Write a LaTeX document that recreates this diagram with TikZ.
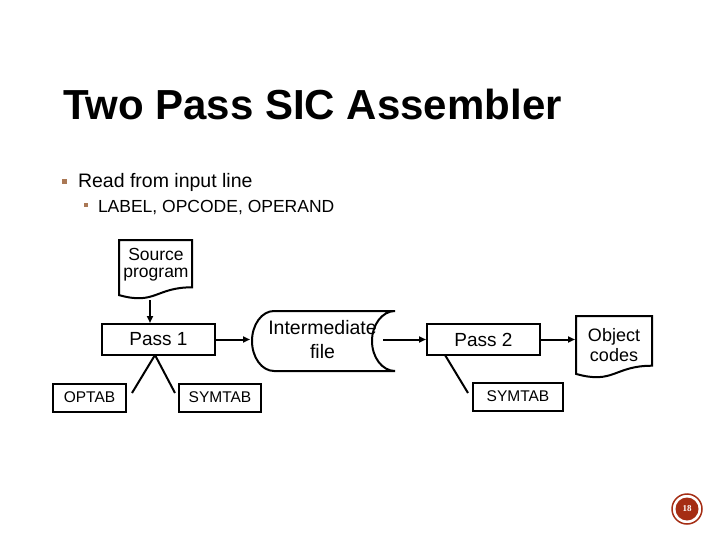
\documentclass[tikz,border=0pt]{standalone}
\usepackage{fontspec}
\setmainfont{Liberation Sans}
\newfontfamily\pagefont{Liberation Serif}
\usetikzlibrary{arrows.meta}

\definecolor{bulletc}{RGB}{170,120,85}
\definecolor{pagered}{RGB}{165,45,20}

% document outline with wavy bottom: x, y, width, height
\def\docwave#1#2#3#4{%
    \draw[outline] (#1,#2) -- ({#1+#3},#2) -- ({#1+#3},{#2+0.802*#4})
        .. controls ({#1+0.5*#3},{#2+0.802*#4}) and ({#1+0.5*#3},{#2+1.107*#4}) ..
        (#1,{#2+0.934*#4}) -- cycle;}

\begin{document}
\begin{tikzpicture}[x=1pt,y=-1pt,line width=2pt,>={Triangle[length=7pt,width=6pt]}]
    \tikzstyle{outline}=[draw,line join=miter,line width=2pt]
    \tikzstyle{passbox}=[draw,rectangle,minimum width=113pt,minimum height=31pt,inner sep=0pt,font=\fontsize{19}{21}\selectfont]
    \tikzstyle{symbox}=[draw,rectangle,minimum height=28pt,inner sep=0pt,font=\fontsize{15.5}{18}\selectfont]
    \tikzstyle{doctext}=[align=center,inner sep=0pt]
    \tikzstyle{bulletsq}=[fill=bulletc,inner sep=0pt]
    \tikzstyle{link}=[line width=2pt]

    \useasboundingbox (0,0) rectangle (720,540);

    % Title and bullets
    \node[anchor=base west,inner sep=0pt,font=\fontsize{42}{50}\selectfont\bfseries] (title) at (62,120) {Two Pass SIC Assembler};
    \node[bulletsq,minimum size=5pt] (b-1) at (64,182) {};
    \node[anchor=base west,inner sep=0pt,font=\fontsize{19.5}{22}\selectfont] (read) at (77,188) {Read from input line};
    \node[bulletsq,minimum size=4pt] (b-2) at (86,205) {};
    \node[anchor=base west,inner sep=0pt,font=\fontsize{17.5}{20}\selectfont] (fields) at (97,212) {LABEL, OPCODE, OPERAND};

    % Draw the source program
    \docwave{119}{240}{73}{59}
    \node[doctext,font=\fontsize{17.5}{17}\selectfont] (src) at (156,265) {Source\\program};
    \coordinate (srcfoot) at (150,300);

    % Draw the two passes
    \node[passbox] (P-1) at (158.5,339.5) {Pass 1};
    \node[passbox] (P-2) at (483.5,339.5) {Pass 2};

    % Draw the intermediate file
    \node[minimum width=143pt,minimum height=61pt,inner sep=0pt,align=center,font=\fontsize{19.5}{24}\selectfont] (inter) at (322.5,340) {Intermediate\\file};
    \draw[outline] (274,311) -- (395,311)
        .. controls (382.3,311) and (372,324.6) .. (372,341)
        .. controls (372,357.4) and (382.3,371) .. (395,371)
        -- (274,371)
        .. controls (261.8,371) and (252,357.4) .. (252,341)
        .. controls (252,324.6) and (261.8,311) .. cycle;
    \coordinate (interout) at (383,339.5);

    % Draw the object codes
    \docwave{576}{316}{76}{62}
    \node[doctext,minimum width=76pt,font=\fontsize{18}{20}\selectfont] (obj) at (614,345) {Object\\codes};

    % Draw the tables
    \node[symbox,minimum width=73pt] (T-1) at (89.5,397.5) {OPTAB};
    \node[symbox,minimum width=82pt] (T-2) at (220,397.5) {SYMTAB};
    \node[symbox,minimum width=90pt] (T-3) at (518,396.5) {SYMTAB};

    % Connect the flow
    \draw[link,->] (srcfoot) -- (srcfoot |- P-1.north);
    \draw[link,->] (P-1.east) -- (P-1.east -| inter.west);
    \draw[link,->] (interout) -- (P-2.west);
    \draw[link,->] (P-2.east) -- (P-2.east -| obj.west);

    % Lines to the tables
    \coordinate (apex1) at (155,355);
    \coordinate (apex2) at (445,355);
    \foreach \x in {132,175}
        \draw[link] (apex1) -- (\x,393);
    \draw[link] (apex2) -- (468,393);

    % Page number
    \node[circle,fill=pagered,minimum size=23pt,inner sep=0pt,text=white,font=\pagefont\bfseries\fontsize{9}{9}\selectfont] (pg) at (687,509) {18};
    \draw[pagered,line width=1.5pt] (pg.center) circle[radius=15pt];
\end{tikzpicture}
\end{document}
